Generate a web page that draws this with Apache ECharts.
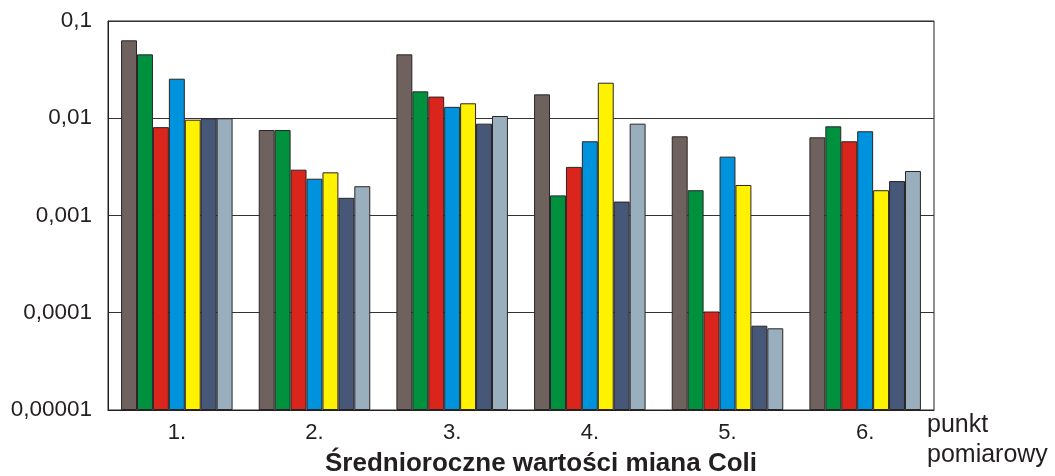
<!DOCTYPE html>
<html>
<head>
<meta charset="utf-8">
<script src="https://cdn.jsdelivr.net/npm/echarts@6/dist/echarts.min.js"></script>
<style>
html,body{margin:0;padding:0;background:#fff;}
#wykres{width:1055px;height:476px;}
</style>
</head>
<body>
<div id="wykres"></div>
<script>
// punkty pomiarowe
var punkty = ['1.', '2.', '3.', '4.', '5.', '6.'];
// etykiety osi Y (skala log)
var etykietyY = ['0,00001', '0,0001', '0,001', '0,01', '0,1'];
// wartości miana Coli - 7 serii
var seria1 = [0.0633, 0.00757, 0.0454, 0.0176, 0.00652, 0.00637];
var seria2 = [0.0454, 0.00757, 0.0189, 0.00161, 0.00182, 0.00826];
var seria3 = [0.0081, 0.00296, 0.0167, 0.00316, 0.000103, 0.0058];
var seria4 = [0.0255, 0.00239, 0.0131, 0.0058, 0.00403, 0.00735];
var seria5 = [0.00966, 0.00278, 0.01425, 0.0232, 0.00206, 0.00182];
var seria6 = [0.0100, 0.00152, 0.0088, 0.00139, 0.0000736, 0.00226];
var seria7 = [0.0100, 0.0020, 0.01054, 0.0088, 0.0000692, 0.00287];
var kolory = ['#6f625e', '#00913f', '#da251d', '#0093dd', '#fff200', '#475777', '#99afbd'];

var wykres = echarts.init(document.getElementById('wykres'));
var dane = [seria1, seria2, seria3, seria4, seria5, seria6, seria7];
var serie = [];
for (var i = 0; i < dane.length; i++) {
	serie.push({
		type: 'bar',
		data: dane[i],
		barGap: '0%',
		barCategoryGap: '19%',
		itemStyle: {
			color: kolory[i],
			borderColor: '#2a2526',
			borderWidth: 1
		}
	});
}

wykres.setOption({
	animation: false,
	textStyle: {fontFamily: 'Liberation Sans, Arial, sans-serif'},
	title: {
		text: 'Średnioroczne wartości miana Coli',
		left: 536,
		textAlign: 'center',
		top: 446,
		textStyle: {fontSize: 26, fontWeight: 'bold', color: '#231f20'}
	},
	grid: {
		left: 108, right: 121, top: 21, bottom: 66,
		show: true, borderColor: '#231f20', borderWidth: 1
	},
	xAxis: {
		type: 'category',
		data: punkty,
		axisLine: {lineStyle: {color: '#231f20', width: 1}},
		axisTick: {show: false},
		axisLabel: {fontSize: 22, color: '#231f20', margin: 12},
		name: 'punkt\npomiarowy',
		nameLocation: 'end',
		nameGap: -7,
		nameTextStyle: {
			fontSize: 25, color: '#231f20', align: 'left',
			verticalAlign: 'top', lineHeight: 30, padding: [0, 0, 0, 0]
		}
	},
	yAxis: {
		type: 'log',
		logBase: 10,
		min: 0.00001,
		max: 0.1,
		startValue: 0.00001,
		axisLine: {show: true, lineStyle: {color: '#231f20', width: 1}},
		axisTick: {show: false},
		splitLine: {show: true, lineStyle: {color: '#333', width: 1}},
		axisLabel: {
			fontSize: 22.5, color: '#231f20', margin: 16,
			formatter: function (v) {
				return etykietyY[Math.round(Math.log10(v)) + 5];
			}
		}
	},
	series: serie
});
</script>
</body>
</html>
